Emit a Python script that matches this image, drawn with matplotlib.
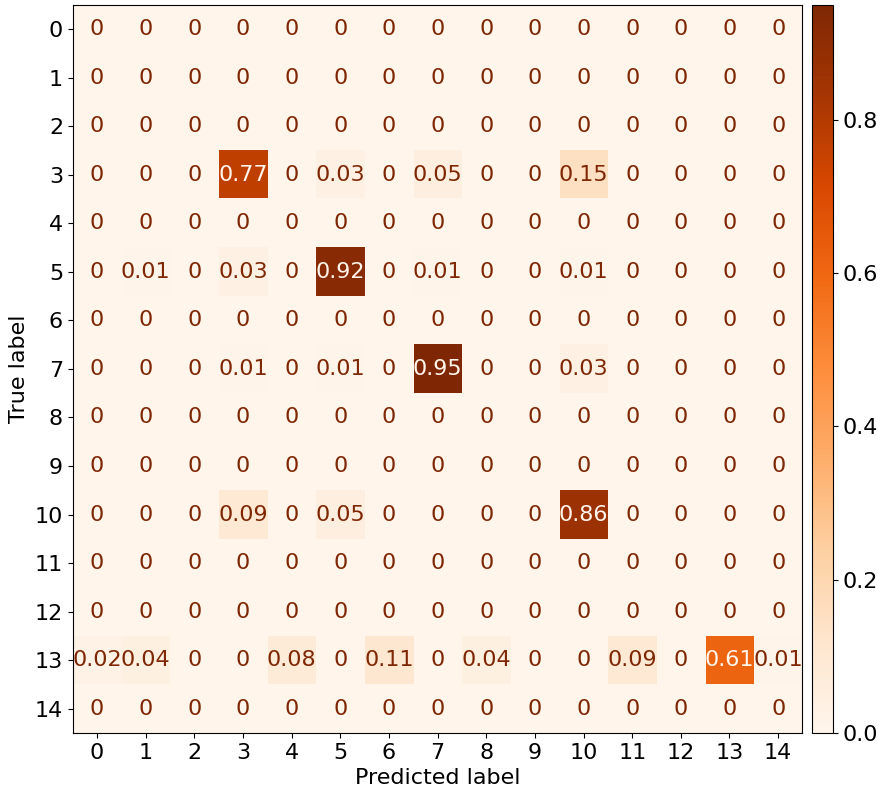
import numpy as np
import matplotlib.pyplot as plt

labels = list(range(15))

# non-zero cells of the normalised confusion matrix: (true, predicted, value)
row3 = {3: 0.77, 5: 0.03, 7: 0.05, 10: 0.15}
row5 = {1: 0.01, 3: 0.03, 5: 0.92, 7: 0.01, 10: 0.01}
row7 = {3: 0.01, 5: 0.01, 7: 0.95, 10: 0.03}
row10 = {3: 0.09, 5: 0.05, 10: 0.86}
row13 = {0: 0.02, 1: 0.04, 4: 0.08, 6: 0.11, 8: 0.04, 11: 0.09, 13: 0.61, 14: 0.01}

cm = np.zeros((15, 15))
for r, vals in [(3, row3), (5, row5), (7, row7), (10, row10), (13, row13)]:
    for c, v in vals.items():
        cm[r, c] = v

plt.rcParams['font.size'] = 16
fig = plt.figure(figsize=(8.77, 7.9), dpi=100)
ax = fig.add_axes([0.083, 0.072, 0.832, 0.922])
cax = fig.add_axes([0.926, 0.072, 0.024, 0.922])

cmap = plt.get_cmap('Oranges')
im = ax.imshow(cm, cmap=cmap, interpolation='nearest', aspect='auto')
fig.colorbar(im, cax=cax)

thresh = (cm.max() + cm.min()) / 2.0
for i in range(15):
    for j in range(15):
        color = cmap(0.0) if cm[i, j] > thresh else cmap(1.0)
        ax.text(j, i, format(cm[i, j], '.2g'), ha='center', va='center', color=color)

ax.set_xticks(range(15))
ax.set_xticklabels(labels)
ax.set_yticks(range(15))
ax.set_yticklabels(labels)
ax.set_xlabel('Predicted label')
ax.set_ylabel('True label')

plt.savefig('out.png')
